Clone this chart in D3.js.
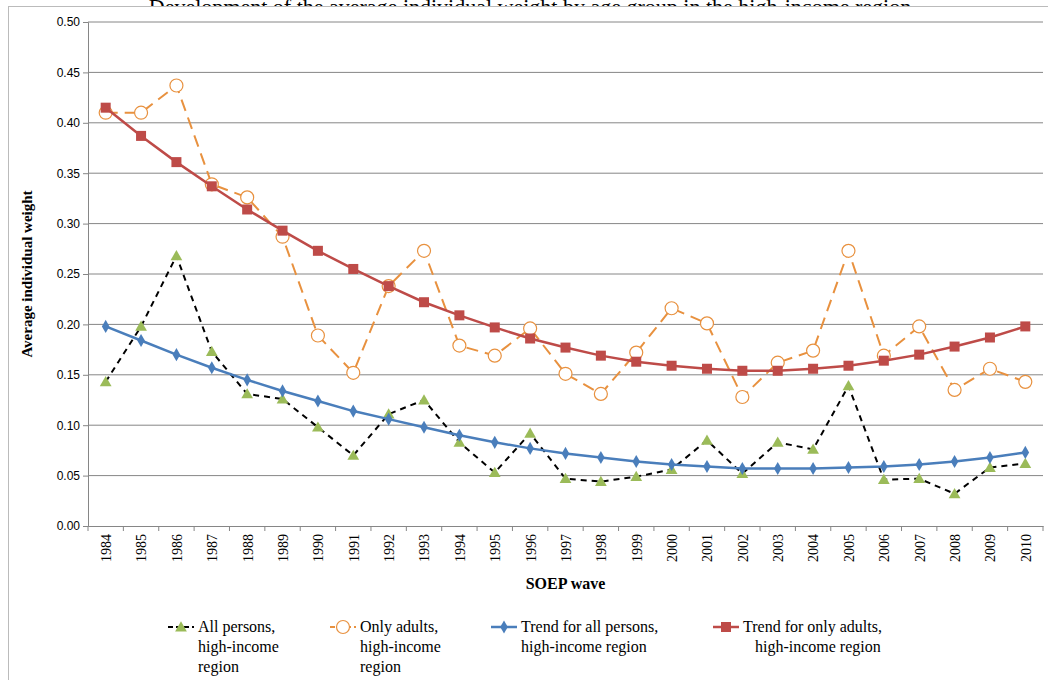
<!DOCTYPE html>
<html>
<head>
<meta charset="utf-8">
<script src="https://cdn.jsdelivr.net/npm/d3@7"></script>
<style>
  body { margin: 0; background: #fff; }
</style>
</head>
<body>
<svg id="chart" width="1048" height="680"></svg>
<script>
const years = d3.range(1984, 2011);
const allPersons = [0.143,0.198,0.268,0.173,0.131,0.126,0.098,0.070,0.111,0.125,0.083,0.053,0.092,0.047,0.044,0.049,0.056,0.085,0.052,0.083,0.076,0.139,0.046,0.047,0.032,0.058,0.062];
const onlyAdults = [0.410,0.410,0.437,0.339,0.326,0.287,0.189,0.152,0.238,0.273,0.179,0.169,0.196,0.151,0.131,0.172,0.216,0.201,0.128,0.162,0.174,0.273,0.169,0.198,0.135,0.156,0.143];
const trendAll = [0.198,0.184,0.170,0.157,0.145,0.134,0.124,0.114,0.106,0.098,0.090,0.083,0.077,0.072,0.068,0.064,0.061,0.059,0.057,0.057,0.057,0.058,0.059,0.061,0.064,0.068,0.073];
const trendAdults = [0.415,0.387,0.361,0.337,0.314,0.293,0.273,0.255,0.238,0.222,0.209,0.197,0.186,0.177,0.169,0.163,0.159,0.156,0.154,0.154,0.156,0.159,0.164,0.170,0.178,0.187,0.198];
const yTicks = d3.range(0, 0.501, 0.05);

const SERIF = "'Liberation Serif', 'DejaVu Serif', serif";
const SANS = "'Liberation Sans Narrow', 'Liberation Sans', sans-serif";

const svg = d3.select("#chart").style("font-family", SERIF);
const pLeft = 88, pRight = 1043, pTop = 22, pBottom = 526;

// title (cut off at top of image in the original)
svg.append("text").attr("x", 530).attr("y", 14).attr("text-anchor", "middle")
  .attr("font-size", 22).style("font-family", SERIF)
  .text("Development of the average individual weight by age group in the high-income region");
svg.append("rect").attr("x", 8.5).attr("y", 6.5).attr("width", 1045).attr("height", 690)
  .attr("fill", "#fff").attr("stroke", "#bbb");

const x = d3.scalePoint().domain(years).range([pLeft, pRight]).padding(0.5);
const y = d3.scaleLinear().domain([0, 0.5]).range([pBottom, pTop]);

svg.append("g").selectAll("line").data(yTicks.slice(1)).join("line")
  .attr("x1", pLeft).attr("x2", pRight).attr("y1", d => y(d)).attr("y2", d => y(d))
  .attr("stroke", "#868686");

const yAxis = svg.append("g").attr("transform", `translate(${pLeft},0)`)
  .call(d3.axisLeft(y).tickValues(yTicks).tickFormat(d3.format(".2f")).tickSize(5));
yAxis.selectAll("text").style("font-family", SANS).attr("font-size", 12).attr("fill", "#000");
yAxis.selectAll("line,path").attr("stroke", "#868686");

const step = x.step();
const xAxis = svg.append("g").attr("transform", `translate(0,${pBottom})`)
  .call(d3.axisBottom(x).tickSize(0).tickFormat(d => d));
xAxis.select("path").attr("stroke", "#868686");
xAxis.selectAll(".tick text").style("font-family", SERIF).attr("font-size", 14).attr("fill", "#000")
  .attr("transform", "rotate(-90)").attr("text-anchor", "end").attr("dx", -8).attr("dy", "0.35em").attr("x", 0).attr("y", 0);
svg.append("g").selectAll("line").data(d3.range(years.length + 1)).join("line")
  .attr("x1", i => pLeft + i * step).attr("x2", i => pLeft + i * step)
  .attr("y1", pBottom).attr("y2", pBottom + 5).attr("stroke", "#868686");

svg.append("text").attr("x", (pLeft + pRight) / 2).attr("y", 589).attr("text-anchor", "middle")
  .attr("font-weight", "bold").attr("font-size", 16).text("SOEP wave");
svg.append("text").attr("transform", `translate(32,${(pTop + pBottom) / 2}) rotate(-90)`)
  .attr("text-anchor", "middle").attr("font-weight", "bold").attr("font-size", 15).text("Average individual weight");

const series = [
  { vals: allPersons, color: "#000", dash: "6,5", marker: "tri", mcol: "#9BBB59" },
  { vals: onlyAdults, color: "#E8913F", dash: "12,7", marker: "circ", mcol: "#E8913F" },
  { vals: trendAll, color: "#4A7EBB", dash: null, marker: "dia", mcol: "#4A7EBB" },
  { vals: trendAdults, color: "#BE4B48", dash: null, marker: "sq", mcol: "#BE4B48" }
];
const line = d3.line().x((d, i) => x(years[i])).y(d => y(d));

function drawMarker(g, s, cx, cy) {
  if (s.marker === "tri") g.append("path").attr("d", d3.symbol(d3.symbolTriangle, 60)()).attr("transform", `translate(${cx},${cy + 1})`).attr("fill", s.mcol);
  if (s.marker === "circ") g.append("circle").attr("cx", cx).attr("cy", cy).attr("r", 6.5).attr("fill", "#fff").attr("stroke", s.mcol).attr("stroke-width", 1.2);
  if (s.marker === "dia") g.append("path").attr("d", d3.symbol(d3.symbolDiamond, 50)()).attr("transform", `translate(${cx},${cy})`).attr("fill", s.mcol);
  if (s.marker === "sq") g.append("rect").attr("x", cx - 5).attr("y", cy - 5).attr("width", 10).attr("height", 10).attr("fill", s.mcol);
}

series.forEach(s => {
  const g = svg.append("g");
  g.append("path").datum(s.vals).attr("d", line).attr("fill", "none").attr("stroke", s.color)
    .attr("stroke-width", s.dash ? 2 : 2.5).attr("stroke-dasharray", s.dash);
  s.vals.forEach((v, i) => drawMarker(g, s, x(years[i]), y(v)));
});

// legend
const legendItems = [
  { s: series[0], lines: ["All persons,", "high-income", "region"], x: 168 },
  { s: series[1], lines: ["Only adults,", "high-income", "region"], x: 330 },
  { s: series[2], lines: ["Trend for all persons,", "high-income region"], x: 491 },
  { s: series[3], lines: ["Trend for only adults,", "high-income region"], x: 713, indent: true }
];
legendItems.forEach(it => {
  const g = svg.append("g");
  const ly = 627;
  g.append("line").attr("x1", it.x).attr("x2", it.x + 26).attr("y1", ly).attr("y2", ly)
    .attr("stroke", it.s.color).attr("stroke-width", it.s.dash ? 2 : 2.5).attr("stroke-dasharray", it.s.dash ? "5,3" : null);
  drawMarker(g, it.s, it.x + 13, ly);
  it.lines.forEach((t, j) => {
    g.append("text").attr("x", it.x + 30 + (it.indent && j > 0 ? 12 : 0)).attr("y", ly + 5 + j * 20)
      .style("font-family", SERIF).attr("font-size", 16).text(t);
  });
});
</script>
</body>
</html>
